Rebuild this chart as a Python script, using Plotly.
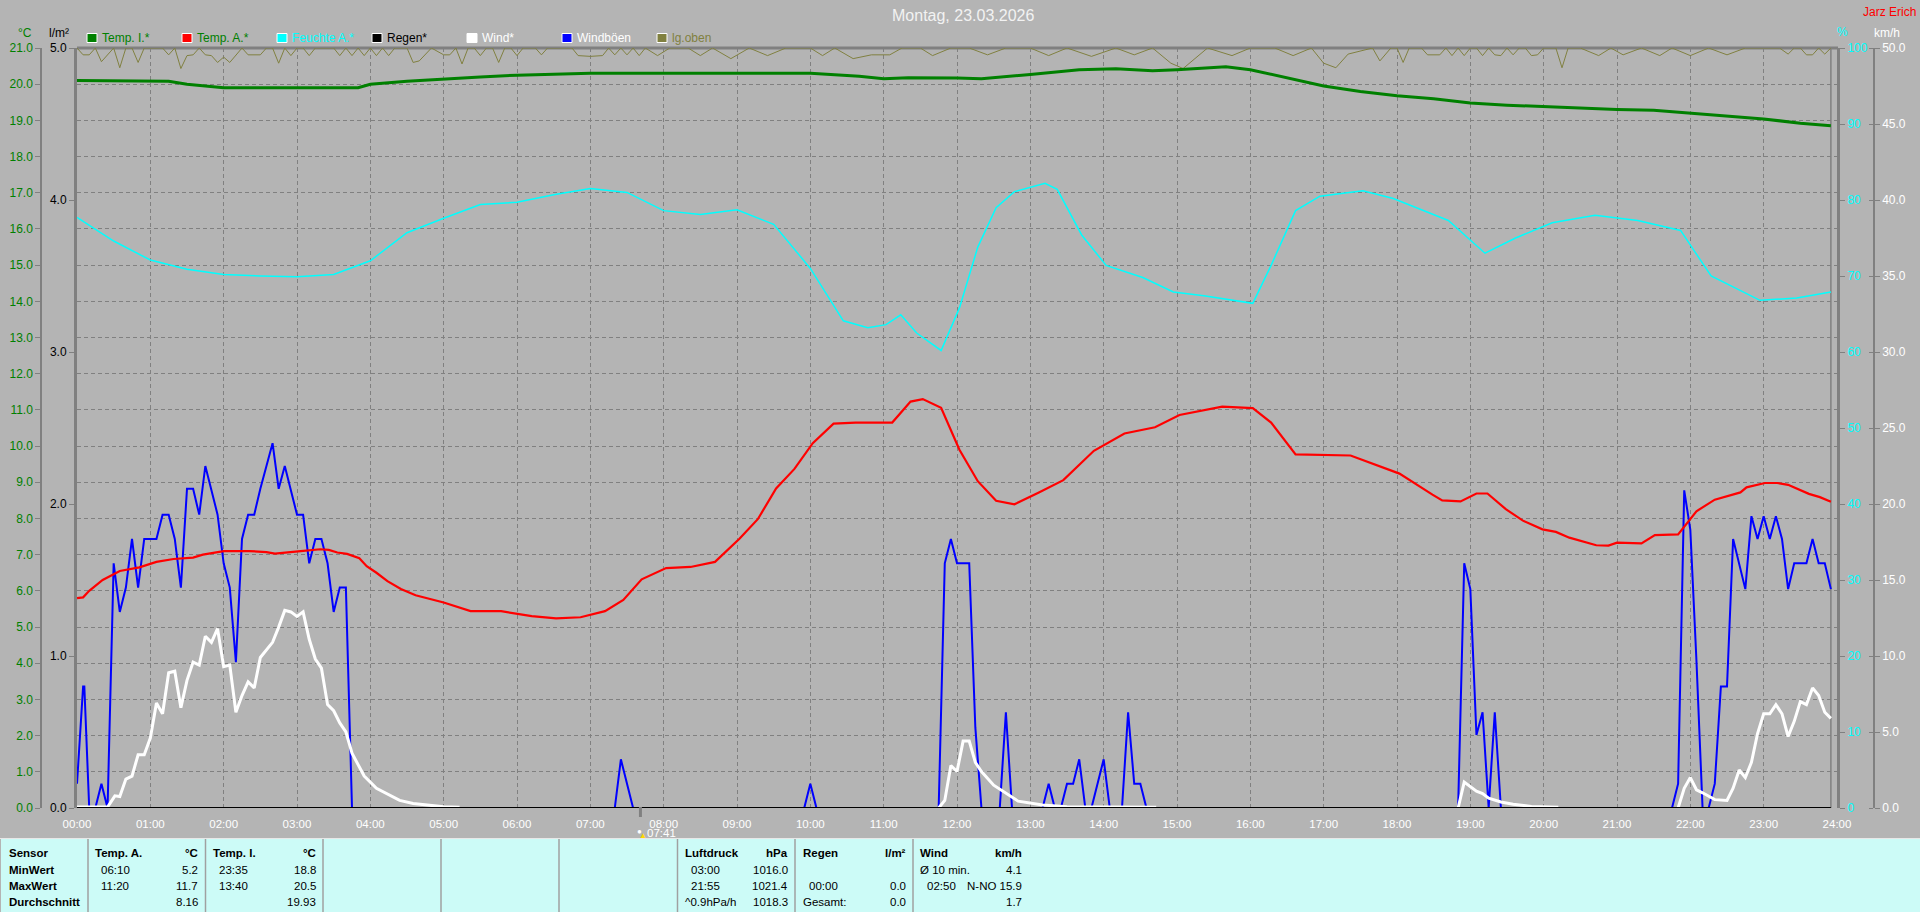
import plotly.graph_objects as go

W, H = 1920, 912
FONT = "Liberation Sans"
GRID = "#808080"

hour_ticks = list(range(0, 1441, 60))
hour_labels = [f"{h:02d}:00" for h in range(25)]
last_sample_min = 1435
sunrise_min = 461

tempi_t = [0,75,90,105,120,230,240,270,300,330,360,420,600,640,660,680,720,740,780,800,820,850,880,900,940,960,980,1000,1020,1050,1080,1110,1140,1170,1200,1230,1260,1290,1320,1350,1380,1410,1435]
tempi_v = [20.1,20.08,20.0,19.95,19.9,19.9,20.0,20.08,20.15,20.2,20.25,20.3,20.3,20.22,20.15,20.18,20.17,20.15,20.27,20.33,20.4,20.43,20.37,20.4,20.48,20.4,20.25,20.1,19.95,19.8,19.68,19.6,19.48,19.42,19.38,19.32,19.3,19.28,19.2,19.13,19.04,18.92,18.85]

tempa_t = [0,5,10,21,35,51,65,79,95,103,120,141,155,162,183,199,206,213,221,231,237,245,254,265,277,300,322,347,372,392,412,432,447,462,482,502,522,542,557,572,587,602,619,637,667,682,692,707,722,737,752,767,787,807,832,857,882,902,937,962,977,997,1042,1082,1109,1117,1132,1145,1154,1169,1183,1199,1210,1221,1243,1253,1260,1280,1291,1310,1325,1340,1361,1366,1381,1391,1400,1417,1426,1435]
tempa_v = [5.8,5.82,6.0,6.3,6.55,6.65,6.8,6.88,6.92,7.0,7.1,7.1,7.07,7.03,7.1,7.15,7.13,7.06,7.02,6.9,6.68,6.5,6.27,6.05,5.88,5.68,5.44,5.44,5.3,5.24,5.27,5.44,5.75,6.32,6.63,6.66,6.8,7.44,7.98,8.83,9.37,10.08,10.62,10.65,10.65,11.23,11.3,11.06,9.9,9.03,8.49,8.39,8.72,9.06,9.87,10.35,10.52,10.86,11.09,11.05,10.65,9.77,9.74,9.24,8.66,8.5,8.47,8.69,8.69,8.26,7.94,7.7,7.63,7.47,7.26,7.25,7.33,7.31,7.54,7.56,8.2,8.52,8.72,8.86,8.98,8.98,8.93,8.68,8.59,8.46]

hum_t = [0,30,60,90,120,150,180,210,240,270,300,330,360,390,420,450,480,510,540,570,600,627,647,662,674,687,707,722,737,752,767,792,802,822,842,872,897,922,962,977,997,1017,1052,1077,1122,1152,1177,1207,1242,1277,1312,1337,1377,1407,1435]
hum_v = [77.7,74.6,72.1,70.9,70.2,70,69.9,70.2,72,75.7,77.6,79.4,79.7,80.7,81.5,81,78.6,78.1,78.7,76.8,71,64.1,63.2,63.6,64.9,62.5,60.2,65.8,73.8,79,81.1,82.2,81.4,75.4,71.4,69.8,67.9,67.4,66.4,71.4,78.6,80.5,81.2,80.2,77.3,73,75,77,78,77.3,76,70,66.8,67.1,67.9]

olive_t = [0,5,10,15,20,25,30,35,40,45,50,55,70,75,80,85,90,95,100,105,110,115,120,125,135,140,150,155,160,165,170,175,180,185,190,195,210,215,220,225,230,235,240,245,250,255,260,270,275,280,290,300,305,310,315,320,325,330,335,340,345,350,355,360,365,375,380,385,405,410,420,430,435,440,445,450,455,460,465,475,485,500,510,520,535,550,565,580,600,610,620,635,650,665,675,690,700,715,730,745,760,780,795,810,830,850,865,880,895,905,915,925,945,960,980,995,1010,1020,1030,1040,1060,1066,1075,1080,1085,1090,1100,1105,1115,1120,1125,1130,1135,1140,1145,1150,1155,1160,1165,1170,1175,1180,1185,1190,1195,1200,1210,1215,1220,1230,1245,1255,1265,1280,1295,1305,1320,1335,1350,1365,1380,1393,1400,1405,1410,1415,1420,1425,1430,1435]
olive_v = [100,99.1,99.1,100,98.2,99.1,100,97.4,100,100,98.1,100,100,99.1,100,97.3,99,99.1,100,99.1,99,98.1,98.8,98.1,100,99.1,99.1,100,100,98,100,99,100,100,99,100,100,99,100,99,100,99,100,99,100,99,100,100,98.1,98.3,100,99.1,99.1,100,97.9,100,100,99,100,100,98.1,100,100,99,100,100,99.1,100,100,99,98.9,99,100,99.1,100,99.1,100,99,100,99,100,100,99,100,98.6,100,99,100,100,99,100,98.6,99.1,99.1,100,100,99,100,100,99.1,100,100,99,100,98.9,100,99.1,100,98,97.3,98.7,100,99,100,100,99,100,98,97.4,99.2,100,98.3,100,100,98.1,100,100,99.1,99.1,100,99,100,99,100,100,99,100,99.1,99,100,99.1,100,100,99,99.1,100,100,97.4,100,100,99,100,99.1,100,99,100,99,100,99.1,100,100,100,99.2,100,100,99.1,99.1,100,99.2,100]

gust_t = [0,5,6,10,15,20,25,30,35,40,45,50,55,65,70,75,80,85,90,95,100,105,110,115,120,125,130,135,140,145,150,160,165,170,180,185,190,195,200,205,210,215,220,225,440,445,455,595,600,605,705,710,715,720,730,735,740,755,760,765,790,795,800,805,810,815,820,825,830,840,845,855,860,865,870,875,1130,1135,1140,1145,1150,1155,1160,1165,1305,1310,1315,1320,1325,1330,1335,1340,1345,1350,1355,1365,1370,1375,1380,1385,1390,1395,1400,1405,1415,1420,1425,1430,1435]
gust_v = [1.6,8,8,0,0,1.6,0,16.1,12.9,14.5,17.7,14.5,17.7,17.7,19.3,19.3,17.7,14.5,21,21,19.3,22.5,20.9,19.3,16.1,14.5,9.6,17.7,19.3,19.3,21,24,21,22.5,19.3,19.3,16.1,17.7,17.7,16.1,12.9,14.5,14.5,0,0,3.2,0,0,1.6,0,0,16.1,17.7,16.1,16.1,5.3,0,0,6.3,0,0,1.6,0,0,1.6,1.6,3.2,0,0,3.2,0,0,6.3,1.6,1.6,0,0,16.1,14.4,4.8,6.3,0,6.3,0,0,1.6,20.9,18.3,9.7,0,0,1.6,8,8,17.7,14.4,19.2,17.7,19.2,17.7,19.2,17.7,14.4,16.1,16.1,17.7,16.1,16.1,14.4]

wind_t = [0,25,31,35,40,45,50,55,60,65,70,75,80,85,90,95,100,105,110,115,120,125,130,135,140,145,150,160,165,170,175,180,185,190,195,200,205,210,215,220,225,235,245,264,275,290,300,313,314,704,705,710,715,720,725,730,735,740,750,760,770,790,810,883,884,1129,1130,1135,1145,1150,1155,1165,1175,1190,1212,1213,1309,1310,1315,1320,1325,1330,1335,1340,1350,1355,1360,1365,1370,1375,1380,1385,1390,1395,1400,1405,1410,1415,1420,1425,1430,1435]
wind_v = [0.06,0.06,0.8,0.75,1.9,2.1,3.5,3.5,4.6,6.9,6.2,8.9,9,6.6,8.4,9.6,9.4,11.3,10.9,11.8,9.3,9.4,6.3,7.4,8.3,7.9,9.9,10.9,11.9,13,12.9,12.6,12.9,11.1,9.8,9.2,6.8,6.4,5.6,5,3.6,2.1,1.3,0.5,0.3,0.15,0.08,0.05,None,None,0,0.5,2.8,2.4,4.4,4.4,3,2.4,1.5,0.95,0.45,0.2,0.08,0.05,None,None,0,1.7,1.1,0.95,0.65,0.4,0.25,0.1,0.05,None,None,0,1.3,2,1.2,1,0.75,0.55,0.5,1.3,2.5,2,3,4.9,6.2,6.2,6.8,6.2,4.7,5.7,7,6.8,7.9,7.4,6.3,5.9]

rain_t = [0, 1435]
rain_v = [0, 0]

legend_labels = ["Temp. I.*", "Temp. A.*", "Feuchte A.*", "Regen*", "Wind*", "Windböen", "lg.oben"]
legend_swatch = ["#008000", "#FF0000", "#00FFFF", "#000000", "#FFFFFF", "#0000FF", "#808040"]
legend_text = ["#008000", "#008000", "#00FFFF", "#000000", "#FFFFFF", "#FFFFFF", "#808040"]

table_labels = ["Sensor", "MinWert", "MaxWert", "Durchschnitt"]
block_a = ["Temp. A.", "°C", "06:10", "5.2", "11:20", "11.7", "", "8.16"]
block_i = ["Temp. I.", "°C", "23:35", "18.8", "13:40", "20.5", "", "19.93"]
block_p = ["Luftdruck", "hPa", "03:00", "1016.0", "21:55", "1021.4", "^0.9hPa/h", "1018.3"]
block_r = ["Regen", "l/m²", "", "", "00:00", "0.0", "Gesamt:", "0.0"]
block_w = ["Wind", "km/h", "Ø 10 min.", "4.1", "02:50", "N-NO 15.9", "", "1.7"]


def px(x):
    return x / W


def py(y):
    return 1 - y / H


fig = go.Figure()


def add(t, v, color, width, yaxis):
    fig.add_trace(go.Scatter(x=t, y=v, mode="lines", yaxis=yaxis, showlegend=False,
                             hoverinfo="skip", connectgaps=False,
                             line=dict(color=color, width=width, shape="linear")))


# Overlaid axes paint in order y, y2, y3, y4: humidity lowest, then wind, temperature, rain.
add(olive_t, olive_v, "#808040", 1, "y")
add(hum_t, hum_v, "#00FFFF", 1.5, "y")
add(gust_t, gust_v, "#0000FF", 2, "y2")
add(wind_t, wind_v, "#FFFFFF", 3, "y2")
add(tempi_t, tempi_v, "#008000", 3, "y3")
add(tempa_t, tempa_v, "#FF0000", 2.2, "y3")
add(rain_t, rain_v, "#000000", 2, "y4")

shapes = []
annots = []


def text(x, y, s, color="#000000", size=12, anchor="left", bold=False):
    if s == "":
        return
    annots.append(dict(x=px(x), y=py(y), xref="paper", yref="paper", text=f"<b>{s}</b>" if bold else s,
                       showarrow=False, xanchor=anchor, yanchor="middle", borderpad=0, borderwidth=0,
                       font=dict(family=FONT, size=size, color=color)))


# frame
shapes.append(dict(type="line", xref="paper", yref="paper", x0=px(77), x1=px(1838), y0=py(48), y1=py(48),
                   line=dict(color=GRID, width=3), layer="below"))
shapes.append(dict(type="line", xref="x", yref="paper", x0=last_sample_min, x1=last_sample_min, y0=py(48), y1=py(808),
                   line=dict(color=GRID, width=1.5), layer="below"))
shapes.append(dict(type="line", xref="x", yref="paper", x0=sunrise_min, x1=sunrise_min, y0=py(807), y1=py(817),
                   line=dict(color=GRID, width=3)))

# table
shapes.append(dict(type="rect", xref="paper", yref="paper", x0=px(1), x1=1, y0=py(839), y1=0,
                   fillcolor="#CCFBF7", line=dict(width=0), layer="below"))
shapes.append(dict(type="line", xref="paper", yref="paper", x0=0, x1=1, y0=py(838.5), y1=py(838.5),
                   line=dict(color="#E8E8E8", width=1)))
for sx in [88, 205.5, 323, 441, 559, 677.5, 795, 913]:
    shapes.append(dict(type="line", xref="paper", yref="paper", x0=px(sx), x1=px(sx), y0=py(839), y1=0,
                       line=dict(color="#A0A0A0", width=1.5)))

row_y = [853, 870, 886, 902]
for y, s in zip(row_y, table_labels):
    text(8.5, y, s, bold=True, size=11.5)


def block(values, left, indent, right):
    text(left, row_y[0], values[0], bold=True, size=11.5)
    text(right, row_y[0], values[1], anchor="right", bold=True, size=11.5)
    for i in range(1, 4):
        lab, val = values[2 * i], values[2 * i + 1]
        is_flush = lab.startswith(("^", "Gesamt", "Ø"))
        text(left if is_flush else indent, row_y[i], lab, size=11.5)
        text(right, row_y[i], val, anchor="right", size=11.5)


block(block_a, 95, 101, 198)
block(block_i, 213, 219, 316)
block(block_p, 684.5, 691, 788)
block(block_r, 803, 809, 906)
block(block_w, 920, 927, 1022)

# legend
swatch_x = [92, 187, 282, 377, 472, 567, 662]
for sx, lab, sw, tc in zip(swatch_x, legend_labels, legend_swatch, legend_text):
    shapes.append(dict(type="rect", xref="paper", yref="paper", x0=px(sx - 5), x1=px(sx + 5), y0=py(33.5), y1=py(42.5),
                       fillcolor=sw, line=dict(color="#FFFFFF", width=1)))
    text(sx + 10, 38, lab, color=tc, size=12)

# headers
text(963, 15, "Montag, 23.03.2026", color="#F2F2F2", size=16, anchor="center")
text(1916, 12, "Jarz Erich", color="#FF0000", size=12, anchor="right")
text(25, 33, "°C", color="#008000", size=12, anchor="center")
text(59, 33, "l/m²", color="#000000", size=12, anchor="center")
text(1842, 32, "%", color="#00FFFF", size=12, anchor="center")
text(1887, 33, "km/h", color="#FFFFFF", size=12, anchor="center")
text(647, 833, "07:41", color="#FFFFFF", size=11.5)
text(639, 831, "●", color="#FFFFFF", size=8, anchor="center")
text(643, 835, "▲", color="#FFD800", size=8, anchor="center")

fig.update_layout(
    width=W, height=H, margin=dict(l=0, r=0, t=0, b=0, autoexpand=False),
    paper_bgcolor="#B4B4B4", plot_bgcolor="#B4B4B4", shapes=shapes, annotations=annots,
    font=dict(family=FONT, size=12), showlegend=False,
    xaxis=dict(domain=[px(77), px(1837)], range=[0, 1440], tickmode="array", tickvals=hour_ticks, ticktext=hour_labels,
               showgrid=True, gridcolor=GRID, griddash="4px,3px", gridwidth=1, zeroline=False, showline=False,
               ticks="", ticklabelstandoff=7, tickfont=dict(color="#FFFFFF", size=11.5, family=FONT)),
    # humidity (base axis, right edge)
    yaxis=dict(domain=[py(808), py(48)], range=[0, 100], dtick=10, anchor="x", side="right", showline=True,
               linecolor=GRID, linewidth=3, ticks="outside", ticklen=5, tickcolor=GRID, showgrid=False, zeroline=False,
               tickformat="d", tickfont=dict(color="#00FFFF", size=12, family=FONT)),
    # wind
    yaxis2=dict(range=[0, 50], dtick=5, anchor="free", position=px(1874), side="right", showline=True, linecolor=GRID,
                linewidth=1.5, ticks="outside", ticklen=5, tickcolor=GRID, tickformat=".1f", showgrid=False,
                zeroline=False, overlaying="y", tickfont=dict(color="#FFFFFF", size=12, family=FONT),
                minor=dict(ticks="inside", tickmode="array", tickvals=list(range(0, 51, 5)), ticklen=4, tickcolor=GRID)),
    # temperature, carries the horizontal grid
    yaxis3=dict(range=[0, 21], dtick=1, tickformat=".1f", anchor="free", position=px(41), side="left", overlaying="y",
                showline=True, linecolor=GRID, linewidth=1.5, ticks="outside", ticklen=5, tickcolor=GRID,
                showgrid=True, gridcolor=GRID, griddash="4px,3px", gridwidth=1, zeroline=False,
                tickfont=dict(color="#008000", size=12, family=FONT)),
    # rain
    yaxis4=dict(range=[0, 5], dtick=1, tickformat=".1f", anchor="x", side="left", overlaying="y", showline=True,
                linecolor=GRID, linewidth=3, ticks="outside", ticklen=5, tickcolor=GRID, showgrid=False, zeroline=False,
                tickfont=dict(color="#000000", size=12, family=FONT)),
)

fig.write_html("out.html", config=dict(displayModeBar=False),
               post_script="document.body.style.margin='0';document.body.style.overflow='hidden';")
